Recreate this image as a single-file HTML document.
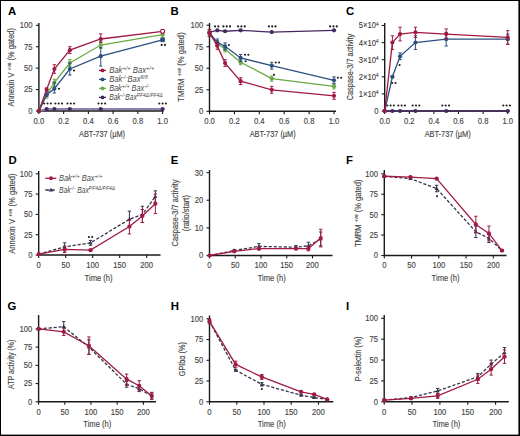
<!DOCTYPE html>
<html><head><meta charset="utf-8"><style>html,body{margin:0;padding:0;background:#fff}svg{display:block}</style></head>
<body><svg width="520" height="436" viewBox="0 0 520 436" font-family="Liberation Sans, sans-serif">
<style>.t{stroke:#4a4a4a;stroke-width:0.15px}</style>
<rect x="0" y="0" width="520" height="436" fill="#fff"/>
<text transform="translate(8,15.4) scale(1.0,1)" font-size="11.4" font-weight="bold" fill="#000">A</text>
<path d="M38.9,23V111H163.6" fill="none" stroke="#1a1a1a" stroke-width="1.4"/>
<path d="M35.9,111.00H38.9" stroke="#1a1a1a" stroke-width="1.1"/>
<text transform="translate(32.60,113.90) scale(0.89,1)" text-anchor="end" font-size="8.6" fill="#444" class="t" >0</text>
<path d="M35.9,89.58H38.9" stroke="#1a1a1a" stroke-width="1.1"/>
<text transform="translate(32.60,92.48) scale(0.89,1)" text-anchor="end" font-size="8.6" fill="#444" class="t" >25</text>
<path d="M35.9,68.15H38.9" stroke="#1a1a1a" stroke-width="1.1"/>
<text transform="translate(32.60,71.05) scale(0.89,1)" text-anchor="end" font-size="8.6" fill="#444" class="t" >50</text>
<path d="M35.9,46.72H38.9" stroke="#1a1a1a" stroke-width="1.1"/>
<text transform="translate(32.60,49.62) scale(0.89,1)" text-anchor="end" font-size="8.6" fill="#444" class="t" >75</text>
<path d="M35.9,25.30H38.9" stroke="#1a1a1a" stroke-width="1.1"/>
<text transform="translate(32.60,28.20) scale(0.89,1)" text-anchor="end" font-size="8.6" fill="#444" class="t" >100</text>
<path d="M38.90,111V114" stroke="#1a1a1a" stroke-width="1.1"/>
<text transform="translate(38.90,123.80) scale(0.89,1)" text-anchor="middle" font-size="8.6" fill="#444" class="t" >0.0</text>
<path d="M63.64,111V114" stroke="#1a1a1a" stroke-width="1.1"/>
<text transform="translate(63.64,123.80) scale(0.89,1)" text-anchor="middle" font-size="8.6" fill="#444" class="t" >0.2</text>
<path d="M88.38,111V114" stroke="#1a1a1a" stroke-width="1.1"/>
<text transform="translate(88.38,123.80) scale(0.89,1)" text-anchor="middle" font-size="8.6" fill="#444" class="t" >0.4</text>
<path d="M113.12,111V114" stroke="#1a1a1a" stroke-width="1.1"/>
<text transform="translate(113.12,123.80) scale(0.89,1)" text-anchor="middle" font-size="8.6" fill="#444" class="t" >0.6</text>
<path d="M137.86,111V114" stroke="#1a1a1a" stroke-width="1.1"/>
<text transform="translate(137.86,123.80) scale(0.89,1)" text-anchor="middle" font-size="8.6" fill="#444" class="t" >0.8</text>
<path d="M162.60,111V114" stroke="#1a1a1a" stroke-width="1.1"/>
<text transform="translate(162.60,123.80) scale(0.89,1)" text-anchor="middle" font-size="8.6" fill="#444" class="t" >1.0</text>
<text x="102.00" y="136.60" textLength="46" lengthAdjust="spacingAndGlyphs" text-anchor="middle" font-size="9.2" fill="#444" class="t" >ABT-737 (µM)</text>
<text transform="translate(14.11,67.30) rotate(-90)" textLength="78.5" lengthAdjust="spacingAndGlyphs" text-anchor="middle" font-size="9.2" fill="#444" class="t">Annexin V <tspan font-size="6" dy="-3.2">+ve</tspan><tspan dy="3.2"> (% gated)</tspan></text>
<path d="M38.90,111.00 L46.63,109.03 L54.36,109.03 L69.83,109.03 L100.75,109.03 L162.60,109.03" fill="none" stroke="#8d7fae" stroke-width="2"/>
<circle cx="38.90" cy="111.00" r="2.1" fill="#45285f"/>
<circle cx="46.63" cy="109.03" r="2.1" fill="#45285f"/>
<circle cx="54.36" cy="109.03" r="2.1" fill="#45285f"/>
<circle cx="69.83" cy="109.03" r="2.1" fill="#45285f"/>
<circle cx="100.75" cy="109.03" r="2.1" fill="#45285f"/>
<circle cx="162.60" cy="109.03" r="2.1" fill="#45285f"/>
<path d="M38.90,111.00 L46.63,94.72 L54.36,82.72 L69.83,63.01 L100.75,45.01 L162.60,34.73" fill="none" stroke="#6aa945" stroke-width="1.3"/>
<path d="M46.63,91.29V98.14M44.93,91.29h3.4M44.93,98.14h3.4" stroke="#6aa945" stroke-width="1"/>
<path d="M54.36,79.29V86.15M52.66,79.29h3.4M52.66,86.15h3.4" stroke="#6aa945" stroke-width="1"/>
<path d="M69.83,59.58V66.44M68.12,59.58h3.4M68.12,66.44h3.4" stroke="#6aa945" stroke-width="1"/>
<path d="M100.75,41.58V48.44M99.05,41.58h3.4M99.05,48.44h3.4" stroke="#6aa945" stroke-width="1"/>
<path d="M162.60,31.30V38.16M160.90,31.30h3.4M160.90,38.16h3.4" stroke="#6aa945" stroke-width="1"/>
<circle cx="38.90" cy="111.00" r="2.1" fill="#6aa945"/>
<circle cx="46.63" cy="94.72" r="2.1" fill="#6aa945"/>
<circle cx="54.36" cy="82.72" r="2.1" fill="#6aa945"/>
<circle cx="69.83" cy="63.01" r="2.1" fill="#6aa945"/>
<circle cx="100.75" cy="45.01" r="2.1" fill="#6aa945"/>
<circle cx="162.60" cy="34.73" r="2.1" fill="#6aa945"/>
<path d="M38.90,111.00 L46.63,94.72 L54.36,88.72 L69.83,69.01 L100.75,56.15 L162.60,39.87" fill="none" stroke="#2c5080" stroke-width="1.3"/>
<path d="M46.63,93.00V96.43M44.93,93.00h3.4M44.93,96.43h3.4" stroke="#2c5080" stroke-width="1"/>
<path d="M54.36,82.72V93.00M52.66,82.72h3.4M52.66,93.00h3.4" stroke="#2c5080" stroke-width="1"/>
<path d="M69.83,63.01V75.01M68.12,63.01h3.4M68.12,75.01h3.4" stroke="#2c5080" stroke-width="1"/>
<path d="M100.75,47.58V66.01M99.05,47.58h3.4M99.05,66.01h3.4" stroke="#2c5080" stroke-width="1"/>
<path d="M162.60,38.16V41.58M160.90,38.16h3.4M160.90,41.58h3.4" stroke="#2c5080" stroke-width="1"/>
<circle cx="38.90" cy="111.00" r="2.1" fill="#2c5080"/>
<circle cx="46.63" cy="94.72" r="2.1" fill="#2c5080"/>
<circle cx="54.36" cy="88.72" r="2.1" fill="#2c5080"/>
<circle cx="69.83" cy="69.01" r="2.1" fill="#2c5080"/>
<circle cx="100.75" cy="56.15" r="2.1" fill="#2c5080"/>
<circle cx="162.60" cy="39.87" r="2.1" fill="#2c5080"/>
<path d="M38.90,111.00 L46.63,89.58 L54.36,69.01 L69.83,50.15 L100.75,39.01 L162.60,31.30" fill="none" stroke="#a01a43" stroke-width="1.3"/>
<path d="M46.63,87.86V91.29M44.93,87.86h3.4M44.93,91.29h3.4" stroke="#a01a43" stroke-width="1"/>
<path d="M54.36,64.72V73.29M52.66,64.72h3.4M52.66,73.29h3.4" stroke="#a01a43" stroke-width="1"/>
<path d="M69.83,46.72V53.58M68.12,46.72h3.4M68.12,53.58h3.4" stroke="#a01a43" stroke-width="1"/>
<path d="M100.75,33.87V42.44M99.05,33.87h3.4M99.05,42.44h3.4" stroke="#a01a43" stroke-width="1"/>
<path d="M162.60,29.58V33.01M160.90,29.58h3.4M160.90,33.01h3.4" stroke="#a01a43" stroke-width="1"/>
<circle cx="38.90" cy="111.00" r="2.1" fill="#a01a43"/>
<circle cx="46.63" cy="89.58" r="2.1" fill="#a01a43"/>
<circle cx="54.36" cy="69.01" r="2.1" fill="#a01a43"/>
<circle cx="69.83" cy="50.15" r="2.1" fill="#a01a43"/>
<circle cx="100.75" cy="39.01" r="2.1" fill="#a01a43"/>
<circle cx="162.60" cy="31.30" r="2.1" fill="#a01a43"/>
<rect x="160.40" y="37.67" width="4.4" height="4.4" fill="#2c5080"/>
<circle cx="162.60" cy="31.30" r="2" fill="#fff" stroke="#a01a43" stroke-width="1.1"/>
<circle cx="44.20" cy="103.50" r="1.05" fill="#1a1a1a"/>
<circle cx="47.50" cy="103.50" r="1.05" fill="#1a1a1a"/>
<circle cx="50.80" cy="103.50" r="1.05" fill="#1a1a1a"/>
<circle cx="55.40" cy="103.50" r="1.05" fill="#1a1a1a"/>
<circle cx="58.70" cy="103.50" r="1.05" fill="#1a1a1a"/>
<circle cx="62.00" cy="103.50" r="1.05" fill="#1a1a1a"/>
<circle cx="67.50" cy="103.50" r="1.05" fill="#1a1a1a"/>
<circle cx="70.80" cy="103.50" r="1.05" fill="#1a1a1a"/>
<circle cx="74.10" cy="103.50" r="1.05" fill="#1a1a1a"/>
<circle cx="98.50" cy="103.50" r="1.05" fill="#1a1a1a"/>
<circle cx="101.80" cy="103.50" r="1.05" fill="#1a1a1a"/>
<circle cx="105.10" cy="103.50" r="1.05" fill="#1a1a1a"/>
<circle cx="159.30" cy="103.50" r="1.05" fill="#1a1a1a"/>
<circle cx="162.60" cy="103.50" r="1.05" fill="#1a1a1a"/>
<circle cx="165.90" cy="103.50" r="1.05" fill="#1a1a1a"/>
<circle cx="161.65" cy="44.90" r="1.05" fill="#1a1a1a"/>
<circle cx="164.95" cy="44.90" r="1.05" fill="#1a1a1a"/>
<circle cx="74.00" cy="70.50" r="1.05" fill="#1a1a1a"/>
<circle cx="59.00" cy="88.80" r="1.05" fill="#1a1a1a"/>
<path d="M99,70.4h7" stroke="#a01a43" stroke-width="1.3"/><circle cx="102.5" cy="70.4" r="1.9" fill="#a01a43"/>
<text x="109.2" y="73.30000000000001" textLength="45" lengthAdjust="spacingAndGlyphs" font-size="8.2" font-style="italic" fill="#4a4a4a">Bak<tspan font-size="6" dy="-3.2">+/+</tspan><tspan dy="3.2"> Bax</tspan><tspan font-size="6" dy="-3.2">+/+</tspan><tspan dy="3.2"></tspan></text>
<path d="M99,79.4h7" stroke="#2c5080" stroke-width="1.3"/><circle cx="102.5" cy="79.4" r="1.9" fill="#2c5080"/>
<text x="109.2" y="82.30000000000001" textLength="38.5" lengthAdjust="spacingAndGlyphs" font-size="8.2" font-style="italic" fill="#4a4a4a">Bak<tspan font-size="6" dy="-3.2">-/-</tspan><tspan dy="3.2">Bax</tspan><tspan font-size="6" dy="-3.2">fl/fl</tspan><tspan dy="3.2"></tspan></text>
<path d="M99,88.4h7" stroke="#6aa945" stroke-width="1.3"/><circle cx="102.5" cy="88.4" r="1.9" fill="#6aa945"/>
<text x="109.2" y="91.30000000000001" textLength="40" lengthAdjust="spacingAndGlyphs" font-size="8.2" font-style="italic" fill="#4a4a4a">Bak<tspan font-size="6" dy="-3.2">+/+</tspan><tspan dy="3.2"> Bax</tspan><tspan font-size="6" dy="-3.2">-/-</tspan><tspan dy="3.2"></tspan></text>
<path d="M99,97.4h7" stroke="#45285f" stroke-width="1.3"/><circle cx="102.5" cy="97.4" r="1.9" fill="#45285f"/>
<text x="109.2" y="100.30000000000001" textLength="53.5" lengthAdjust="spacingAndGlyphs" font-size="8.2" font-style="italic" fill="#4a4a4a">Bak<tspan font-size="6" dy="-3.2">-/-</tspan><tspan dy="3.2">Bax</tspan><tspan font-size="6" dy="-3.2">PF4Δ/PF4Δ</tspan><tspan dy="3.2"></tspan></text>
<text transform="translate(170.6,15.4) scale(1.0,1)" font-size="11.4" font-weight="bold" fill="#000">B</text>
<path d="M209.5,23V111.3H336" fill="none" stroke="#1a1a1a" stroke-width="1.4"/>
<path d="M206.5,111.30H209.5" stroke="#1a1a1a" stroke-width="1.1"/>
<text transform="translate(203.20,114.20) scale(0.89,1)" text-anchor="end" font-size="8.6" fill="#444" class="t" >0</text>
<path d="M206.5,89.78H209.5" stroke="#1a1a1a" stroke-width="1.1"/>
<text transform="translate(203.20,92.68) scale(0.89,1)" text-anchor="end" font-size="8.6" fill="#444" class="t" >25</text>
<path d="M206.5,68.25H209.5" stroke="#1a1a1a" stroke-width="1.1"/>
<text transform="translate(203.20,71.15) scale(0.89,1)" text-anchor="end" font-size="8.6" fill="#444" class="t" >50</text>
<path d="M206.5,46.72H209.5" stroke="#1a1a1a" stroke-width="1.1"/>
<text transform="translate(203.20,49.62) scale(0.89,1)" text-anchor="end" font-size="8.6" fill="#444" class="t" >75</text>
<path d="M206.5,25.20H209.5" stroke="#1a1a1a" stroke-width="1.1"/>
<text transform="translate(203.20,28.10) scale(0.89,1)" text-anchor="end" font-size="8.6" fill="#444" class="t" >100</text>
<path d="M209.50,111.3V114.3" stroke="#1a1a1a" stroke-width="1.1"/>
<text transform="translate(209.50,124.10) scale(0.89,1)" text-anchor="middle" font-size="8.6" fill="#444" class="t" >0.0</text>
<path d="M234.40,111.3V114.3" stroke="#1a1a1a" stroke-width="1.1"/>
<text transform="translate(234.40,124.10) scale(0.89,1)" text-anchor="middle" font-size="8.6" fill="#444" class="t" >0.2</text>
<path d="M259.30,111.3V114.3" stroke="#1a1a1a" stroke-width="1.1"/>
<text transform="translate(259.30,124.10) scale(0.89,1)" text-anchor="middle" font-size="8.6" fill="#444" class="t" >0.4</text>
<path d="M284.20,111.3V114.3" stroke="#1a1a1a" stroke-width="1.1"/>
<text transform="translate(284.20,124.10) scale(0.89,1)" text-anchor="middle" font-size="8.6" fill="#444" class="t" >0.6</text>
<path d="M309.10,111.3V114.3" stroke="#1a1a1a" stroke-width="1.1"/>
<text transform="translate(309.10,124.10) scale(0.89,1)" text-anchor="middle" font-size="8.6" fill="#444" class="t" >0.8</text>
<path d="M334.00,111.3V114.3" stroke="#1a1a1a" stroke-width="1.1"/>
<text transform="translate(334.00,124.10) scale(0.89,1)" text-anchor="middle" font-size="8.6" fill="#444" class="t" >1.0</text>
<text x="272.70" y="137.00" textLength="46" lengthAdjust="spacingAndGlyphs" text-anchor="middle" font-size="9.2" fill="#444" class="t" >ABT-737 (µM)</text>
<text transform="translate(184.01,67.00) rotate(-90)" textLength="69.5" lengthAdjust="spacingAndGlyphs" text-anchor="middle" font-size="9.2" fill="#444" class="t">TMRM <tspan font-size="6" dy="-3.2">+ve</tspan><tspan dy="3.2"> (% gated)</tspan></text>
<path d="M209.50,32.09 L217.28,30.37 L225.06,31.23 L240.62,30.37 L271.75,32.09 L334.00,30.37" fill="none" stroke="#45285f" stroke-width="1.3"/>
<circle cx="209.50" cy="32.09" r="2.1" fill="#45285f"/>
<circle cx="217.28" cy="30.37" r="2.1" fill="#45285f"/>
<circle cx="225.06" cy="31.23" r="2.1" fill="#45285f"/>
<circle cx="240.62" cy="30.37" r="2.1" fill="#45285f"/>
<circle cx="271.75" cy="32.09" r="2.1" fill="#45285f"/>
<circle cx="334.00" cy="30.37" r="2.1" fill="#45285f"/>
<path d="M209.50,32.95 L217.28,43.28 L225.06,49.31 L240.62,62.22 L271.75,78.58 L334.00,86.33" fill="none" stroke="#6aa945" stroke-width="1.3"/>
<path d="M209.50,30.37V35.53M207.80,30.37h3.4M207.80,35.53h3.4" stroke="#6aa945" stroke-width="1"/>
<path d="M217.28,40.70V45.86M215.58,40.70h3.4M215.58,45.86h3.4" stroke="#6aa945" stroke-width="1"/>
<path d="M225.06,46.72V51.89M223.36,46.72h3.4M223.36,51.89h3.4" stroke="#6aa945" stroke-width="1"/>
<path d="M240.62,59.64V64.81M238.93,59.64h3.4M238.93,64.81h3.4" stroke="#6aa945" stroke-width="1"/>
<path d="M271.75,76.00V81.16M270.05,76.00h3.4M270.05,81.16h3.4" stroke="#6aa945" stroke-width="1"/>
<path d="M334.00,83.75V88.91M332.30,83.75h3.4M332.30,88.91h3.4" stroke="#6aa945" stroke-width="1"/>
<circle cx="209.50" cy="32.95" r="2.1" fill="#6aa945"/>
<circle cx="217.28" cy="43.28" r="2.1" fill="#6aa945"/>
<circle cx="225.06" cy="49.31" r="2.1" fill="#6aa945"/>
<circle cx="240.62" cy="62.22" r="2.1" fill="#6aa945"/>
<circle cx="271.75" cy="78.58" r="2.1" fill="#6aa945"/>
<circle cx="334.00" cy="86.33" r="2.1" fill="#6aa945"/>
<path d="M209.50,32.95 L217.28,42.42 L225.06,46.29 L240.62,57.92 L271.75,65.67 L334.00,80.30" fill="none" stroke="#2c5080" stroke-width="1.3"/>
<path d="M209.50,29.51V36.39M207.80,29.51h3.4M207.80,36.39h3.4" stroke="#2c5080" stroke-width="1"/>
<path d="M217.28,38.98V45.86M215.58,38.98h3.4M215.58,45.86h3.4" stroke="#2c5080" stroke-width="1"/>
<path d="M225.06,42.85V49.74M223.36,42.85h3.4M223.36,49.74h3.4" stroke="#2c5080" stroke-width="1"/>
<path d="M240.62,54.47V61.36M238.93,54.47h3.4M238.93,61.36h3.4" stroke="#2c5080" stroke-width="1"/>
<path d="M271.75,62.22V69.11M270.05,62.22h3.4M270.05,69.11h3.4" stroke="#2c5080" stroke-width="1"/>
<path d="M334.00,76.86V83.75M332.30,76.86h3.4M332.30,83.75h3.4" stroke="#2c5080" stroke-width="1"/>
<circle cx="209.50" cy="32.95" r="2.1" fill="#2c5080"/>
<circle cx="217.28" cy="42.42" r="2.1" fill="#2c5080"/>
<circle cx="225.06" cy="46.29" r="2.1" fill="#2c5080"/>
<circle cx="240.62" cy="57.92" r="2.1" fill="#2c5080"/>
<circle cx="271.75" cy="65.67" r="2.1" fill="#2c5080"/>
<circle cx="334.00" cy="80.30" r="2.1" fill="#2c5080"/>
<path d="M209.50,32.95 L217.28,45.86 L225.06,63.08 L240.62,81.16 L271.75,89.78 L334.00,95.80" fill="none" stroke="#a01a43" stroke-width="1.3"/>
<path d="M209.50,29.51V36.39M207.80,29.51h3.4M207.80,36.39h3.4" stroke="#a01a43" stroke-width="1"/>
<path d="M217.28,42.42V49.31M215.58,42.42h3.4M215.58,49.31h3.4" stroke="#a01a43" stroke-width="1"/>
<path d="M225.06,59.64V66.53M223.36,59.64h3.4M223.36,66.53h3.4" stroke="#a01a43" stroke-width="1"/>
<path d="M240.62,77.72V84.61M238.93,77.72h3.4M238.93,84.61h3.4" stroke="#a01a43" stroke-width="1"/>
<path d="M271.75,86.33V93.22M270.05,86.33h3.4M270.05,93.22h3.4" stroke="#a01a43" stroke-width="1"/>
<path d="M334.00,92.36V99.25M332.30,92.36h3.4M332.30,99.25h3.4" stroke="#a01a43" stroke-width="1"/>
<circle cx="209.50" cy="32.95" r="2.1" fill="#a01a43"/>
<circle cx="217.28" cy="45.86" r="2.1" fill="#a01a43"/>
<circle cx="225.06" cy="63.08" r="2.1" fill="#a01a43"/>
<circle cx="240.62" cy="81.16" r="2.1" fill="#a01a43"/>
<circle cx="271.75" cy="89.78" r="2.1" fill="#a01a43"/>
<circle cx="334.00" cy="95.80" r="2.1" fill="#a01a43"/>
<circle cx="215.05" cy="26.40" r="1.05" fill="#1a1a1a"/>
<circle cx="218.35" cy="26.40" r="1.05" fill="#1a1a1a"/>
<circle cx="223.40" cy="26.40" r="1.05" fill="#1a1a1a"/>
<circle cx="226.70" cy="26.40" r="1.05" fill="#1a1a1a"/>
<circle cx="230.00" cy="26.40" r="1.05" fill="#1a1a1a"/>
<circle cx="238.10" cy="26.40" r="1.05" fill="#1a1a1a"/>
<circle cx="241.40" cy="26.40" r="1.05" fill="#1a1a1a"/>
<circle cx="244.70" cy="26.40" r="1.05" fill="#1a1a1a"/>
<circle cx="268.90" cy="26.40" r="1.05" fill="#1a1a1a"/>
<circle cx="272.20" cy="26.40" r="1.05" fill="#1a1a1a"/>
<circle cx="275.50" cy="26.40" r="1.05" fill="#1a1a1a"/>
<circle cx="330.20" cy="26.40" r="1.05" fill="#1a1a1a"/>
<circle cx="333.50" cy="26.40" r="1.05" fill="#1a1a1a"/>
<circle cx="336.80" cy="26.40" r="1.05" fill="#1a1a1a"/>
<circle cx="228.90" cy="45.00" r="1.05" fill="#1a1a1a"/>
<circle cx="245.05" cy="54.70" r="1.05" fill="#1a1a1a"/>
<circle cx="248.35" cy="54.70" r="1.05" fill="#1a1a1a"/>
<circle cx="245.60" cy="61.30" r="1.05" fill="#1a1a1a"/>
<circle cx="275.75" cy="62.50" r="1.05" fill="#1a1a1a"/>
<circle cx="279.05" cy="62.50" r="1.05" fill="#1a1a1a"/>
<circle cx="274.00" cy="74.80" r="1.05" fill="#1a1a1a"/>
<circle cx="337.85" cy="77.70" r="1.05" fill="#1a1a1a"/>
<circle cx="341.15" cy="77.70" r="1.05" fill="#1a1a1a"/>
<text transform="translate(346,15.4) scale(1.0,1)" font-size="11.4" font-weight="bold" fill="#000">C</text>
<path d="M384.7,23V111H509.5" fill="none" stroke="#1a1a1a" stroke-width="1.4"/>
<path d="M381.7,111.00H384.7" stroke="#1a1a1a" stroke-width="1.1"/>
<text transform="translate(378.40,113.90) scale(0.89,1)" text-anchor="end" font-size="8.6" fill="#444" class="t" >0</text>
<path d="M381.7,93.90H384.7" stroke="#1a1a1a" stroke-width="1.1"/>
<text transform="translate(378.40,96.80) scale(0.89,1)" text-anchor="end" font-size="8.6" fill="#444" class="t" >1×10<tspan font-size="5" dy="-2.8">4</tspan></text>
<path d="M381.7,76.80H384.7" stroke="#1a1a1a" stroke-width="1.1"/>
<text transform="translate(378.40,79.70) scale(0.89,1)" text-anchor="end" font-size="8.6" fill="#444" class="t" >2×10<tspan font-size="5" dy="-2.8">4</tspan></text>
<path d="M381.7,59.70H384.7" stroke="#1a1a1a" stroke-width="1.1"/>
<text transform="translate(378.40,62.60) scale(0.89,1)" text-anchor="end" font-size="8.6" fill="#444" class="t" >3×10<tspan font-size="5" dy="-2.8">4</tspan></text>
<path d="M381.7,42.60H384.7" stroke="#1a1a1a" stroke-width="1.1"/>
<text transform="translate(378.40,45.50) scale(0.89,1)" text-anchor="end" font-size="8.6" fill="#444" class="t" >4×10<tspan font-size="5" dy="-2.8">4</tspan></text>
<path d="M381.7,25.50H384.7" stroke="#1a1a1a" stroke-width="1.1"/>
<text transform="translate(378.40,28.40) scale(0.89,1)" text-anchor="end" font-size="8.6" fill="#444" class="t" >5×10<tspan font-size="5" dy="-2.8">4</tspan></text>
<path d="M384.70,111V114" stroke="#1a1a1a" stroke-width="1.1"/>
<text transform="translate(384.70,123.80) scale(0.89,1)" text-anchor="middle" font-size="8.6" fill="#444" class="t" >0.0</text>
<path d="M409.30,111V114" stroke="#1a1a1a" stroke-width="1.1"/>
<text transform="translate(409.30,123.80) scale(0.89,1)" text-anchor="middle" font-size="8.6" fill="#444" class="t" >0.2</text>
<path d="M433.90,111V114" stroke="#1a1a1a" stroke-width="1.1"/>
<text transform="translate(433.90,123.80) scale(0.89,1)" text-anchor="middle" font-size="8.6" fill="#444" class="t" >0.4</text>
<path d="M458.50,111V114" stroke="#1a1a1a" stroke-width="1.1"/>
<text transform="translate(458.50,123.80) scale(0.89,1)" text-anchor="middle" font-size="8.6" fill="#444" class="t" >0.6</text>
<path d="M483.10,111V114" stroke="#1a1a1a" stroke-width="1.1"/>
<text transform="translate(483.10,123.80) scale(0.89,1)" text-anchor="middle" font-size="8.6" fill="#444" class="t" >0.8</text>
<path d="M507.70,111V114" stroke="#1a1a1a" stroke-width="1.1"/>
<text transform="translate(507.70,123.80) scale(0.89,1)" text-anchor="middle" font-size="8.6" fill="#444" class="t" >1.0</text>
<text x="447.70" y="137.40" textLength="46" lengthAdjust="spacingAndGlyphs" text-anchor="middle" font-size="9.2" fill="#444" class="t" >ABT-737 (µM)</text>
<text transform="translate(352.61,67.10) rotate(-90)" textLength="66.5" lengthAdjust="spacingAndGlyphs" text-anchor="middle" font-size="9.2" fill="#444" class="t">Caspase-3/7 activity</text>
<path d="M384.70,111.00 L392.39,111.00 L400.07,111.00 L415.45,111.00 L446.20,111.00 L507.70,111.00" fill="none" stroke="#45285f" stroke-width="1.3"/>
<circle cx="384.70" cy="111.00" r="2.1" fill="#45285f"/>
<circle cx="392.39" cy="111.00" r="2.1" fill="#45285f"/>
<circle cx="400.07" cy="111.00" r="2.1" fill="#45285f"/>
<circle cx="415.45" cy="111.00" r="2.1" fill="#45285f"/>
<circle cx="446.20" cy="111.00" r="2.1" fill="#45285f"/>
<circle cx="507.70" cy="111.00" r="2.1" fill="#45285f"/>
<path d="M384.70,111.00 L392.39,76.80 L400.07,56.28 L415.45,42.60 L446.20,39.18 L507.70,39.18" fill="none" stroke="#2c5080" stroke-width="1.3"/>
<path d="M392.39,75.95V77.66M390.69,75.95h3.4M390.69,77.66h3.4" stroke="#2c5080" stroke-width="1"/>
<path d="M400.07,52.86V59.70M398.38,52.86h3.4M398.38,59.70h3.4" stroke="#2c5080" stroke-width="1"/>
<path d="M415.45,35.76V49.44M413.75,35.76h3.4M413.75,49.44h3.4" stroke="#2c5080" stroke-width="1"/>
<path d="M446.20,32.34V46.02M444.50,32.34h3.4M444.50,46.02h3.4" stroke="#2c5080" stroke-width="1"/>
<path d="M507.70,34.05V44.31M506.00,34.05h3.4M506.00,44.31h3.4" stroke="#2c5080" stroke-width="1"/>
<circle cx="384.70" cy="111.00" r="2.1" fill="#2c5080"/>
<circle cx="392.39" cy="76.80" r="2.1" fill="#2c5080"/>
<circle cx="400.07" cy="56.28" r="2.1" fill="#2c5080"/>
<circle cx="415.45" cy="42.60" r="2.1" fill="#2c5080"/>
<circle cx="446.20" cy="39.18" r="2.1" fill="#2c5080"/>
<circle cx="507.70" cy="39.18" r="2.1" fill="#2c5080"/>
<path d="M384.70,111.00 L392.39,42.60 L400.07,34.05 L415.45,32.34 L446.20,34.05 L507.70,37.47" fill="none" stroke="#a01a43" stroke-width="1.3"/>
<path d="M392.39,35.76V49.44M390.69,35.76h3.4M390.69,49.44h3.4" stroke="#a01a43" stroke-width="1"/>
<path d="M400.07,27.21V40.89M398.38,27.21h3.4M398.38,40.89h3.4" stroke="#a01a43" stroke-width="1"/>
<path d="M415.45,27.21V37.47M413.75,27.21h3.4M413.75,37.47h3.4" stroke="#a01a43" stroke-width="1"/>
<path d="M446.20,28.92V39.18M444.50,28.92h3.4M444.50,39.18h3.4" stroke="#a01a43" stroke-width="1"/>
<path d="M507.70,30.63V44.31M506.00,30.63h3.4M506.00,44.31h3.4" stroke="#a01a43" stroke-width="1"/>
<circle cx="384.70" cy="111.00" r="2.1" fill="#a01a43"/>
<circle cx="392.39" cy="42.60" r="2.1" fill="#a01a43"/>
<circle cx="400.07" cy="34.05" r="2.1" fill="#a01a43"/>
<circle cx="415.45" cy="32.34" r="2.1" fill="#a01a43"/>
<circle cx="446.20" cy="34.05" r="2.1" fill="#a01a43"/>
<circle cx="507.70" cy="37.47" r="2.1" fill="#a01a43"/>
<circle cx="387.30" cy="105.50" r="1.05" fill="#1a1a1a"/>
<circle cx="390.60" cy="105.50" r="1.05" fill="#1a1a1a"/>
<circle cx="393.90" cy="105.50" r="1.05" fill="#1a1a1a"/>
<circle cx="398.30" cy="105.50" r="1.05" fill="#1a1a1a"/>
<circle cx="401.60" cy="105.50" r="1.05" fill="#1a1a1a"/>
<circle cx="404.90" cy="105.50" r="1.05" fill="#1a1a1a"/>
<circle cx="412.70" cy="105.50" r="1.05" fill="#1a1a1a"/>
<circle cx="416.00" cy="105.50" r="1.05" fill="#1a1a1a"/>
<circle cx="419.30" cy="105.50" r="1.05" fill="#1a1a1a"/>
<circle cx="442.40" cy="105.50" r="1.05" fill="#1a1a1a"/>
<circle cx="445.70" cy="105.50" r="1.05" fill="#1a1a1a"/>
<circle cx="449.00" cy="105.50" r="1.05" fill="#1a1a1a"/>
<circle cx="503.30" cy="105.50" r="1.05" fill="#1a1a1a"/>
<circle cx="506.60" cy="105.50" r="1.05" fill="#1a1a1a"/>
<circle cx="509.90" cy="105.50" r="1.05" fill="#1a1a1a"/>
<circle cx="392.15" cy="83.00" r="1.05" fill="#1a1a1a"/>
<circle cx="395.45" cy="83.00" r="1.05" fill="#1a1a1a"/>
<circle cx="399.60" cy="65.00" r="1.05" fill="#1a1a1a"/>
<text transform="translate(8.5,164.4) scale(1.0,1)" font-size="11.4" font-weight="bold" fill="#000">D</text>
<path d="M38.7,171V255H160.5" fill="none" stroke="#1a1a1a" stroke-width="1.4"/>
<path d="M35.7,255.00H38.7" stroke="#1a1a1a" stroke-width="1.1"/>
<text transform="translate(32.40,257.90) scale(0.89,1)" text-anchor="end" font-size="8.6" fill="#444" class="t" >0</text>
<path d="M35.7,234.70H38.7" stroke="#1a1a1a" stroke-width="1.1"/>
<text transform="translate(32.40,237.60) scale(0.89,1)" text-anchor="end" font-size="8.6" fill="#444" class="t" >25</text>
<path d="M35.7,214.40H38.7" stroke="#1a1a1a" stroke-width="1.1"/>
<text transform="translate(32.40,217.30) scale(0.89,1)" text-anchor="end" font-size="8.6" fill="#444" class="t" >50</text>
<path d="M35.7,194.10H38.7" stroke="#1a1a1a" stroke-width="1.1"/>
<text transform="translate(32.40,197.00) scale(0.89,1)" text-anchor="end" font-size="8.6" fill="#444" class="t" >75</text>
<path d="M35.7,173.80H38.7" stroke="#1a1a1a" stroke-width="1.1"/>
<text transform="translate(32.40,176.70) scale(0.89,1)" text-anchor="end" font-size="8.6" fill="#444" class="t" >100</text>
<path d="M38.70,255V258" stroke="#1a1a1a" stroke-width="1.1"/>
<text transform="translate(38.70,267.80) scale(0.89,1)" text-anchor="middle" font-size="8.6" fill="#444" class="t" >0</text>
<path d="M65.70,255V258" stroke="#1a1a1a" stroke-width="1.1"/>
<text transform="translate(65.70,267.80) scale(0.89,1)" text-anchor="middle" font-size="8.6" fill="#444" class="t" >50</text>
<path d="M92.70,255V258" stroke="#1a1a1a" stroke-width="1.1"/>
<text transform="translate(92.70,267.80) scale(0.89,1)" text-anchor="middle" font-size="8.6" fill="#444" class="t" >100</text>
<path d="M119.70,255V258" stroke="#1a1a1a" stroke-width="1.1"/>
<text transform="translate(119.70,267.80) scale(0.89,1)" text-anchor="middle" font-size="8.6" fill="#444" class="t" >150</text>
<path d="M146.70,255V258" stroke="#1a1a1a" stroke-width="1.1"/>
<text transform="translate(146.70,267.80) scale(0.89,1)" text-anchor="middle" font-size="8.6" fill="#444" class="t" >200</text>
<text x="98.60" y="280.50" textLength="28" lengthAdjust="spacingAndGlyphs" text-anchor="middle" font-size="9.2" fill="#444" class="t" >Time (h)</text>
<path d="M38.70,254.19 L64.62,246.88 L90.54,242.82 L129.42,219.27 L142.38,214.40 L155.34,196.54" fill="none" stroke="#33344f" stroke-width="1.3" stroke-dasharray="3.2,1.8"/>
<path d="M38.70,254.19V254.19M37.00,254.19h3.4M37.00,254.19h3.4" stroke="#33344f" stroke-width="1"/>
<path d="M64.62,242.82V250.94M62.92,242.82h3.4M62.92,250.94h3.4" stroke="#33344f" stroke-width="1"/>
<path d="M90.54,240.38V245.26M88.84,240.38h3.4M88.84,245.26h3.4" stroke="#33344f" stroke-width="1"/>
<path d="M129.42,211.15V227.39M127.72,211.15h3.4M127.72,227.39h3.4" stroke="#33344f" stroke-width="1"/>
<path d="M142.38,206.28V222.52M140.68,206.28h3.4M140.68,222.52h3.4" stroke="#33344f" stroke-width="1"/>
<path d="M155.34,190.85V202.22M153.64,190.85h3.4M153.64,202.22h3.4" stroke="#33344f" stroke-width="1"/>
<path d="M38.70,251.99L40.70,255.59L36.70,255.59Z" fill="#33344f"/>
<path d="M64.62,244.68L66.62,248.28L62.62,248.28Z" fill="#33344f"/>
<path d="M90.54,240.62L92.54,244.22L88.54,244.22Z" fill="#33344f"/>
<path d="M129.42,217.07L131.42,220.67L127.42,220.67Z" fill="#33344f"/>
<path d="M142.38,212.20L144.38,215.80L140.38,215.80Z" fill="#33344f"/>
<path d="M155.34,194.34L157.34,197.94L153.34,197.94Z" fill="#33344f"/>
<path d="M38.70,254.19 L64.62,249.32 L90.54,250.13 L129.42,226.58 L142.38,216.02 L155.34,203.84" fill="none" stroke="#a01a43" stroke-width="1.3"/>
<path d="M38.70,254.19V254.19M37.00,254.19h3.4M37.00,254.19h3.4" stroke="#a01a43" stroke-width="1"/>
<path d="M64.62,246.07V252.56M62.92,246.07h3.4M62.92,252.56h3.4" stroke="#a01a43" stroke-width="1"/>
<path d="M90.54,249.32V250.94M88.84,249.32h3.4M88.84,250.94h3.4" stroke="#a01a43" stroke-width="1"/>
<path d="M129.42,219.27V233.89M127.72,219.27h3.4M127.72,233.89h3.4" stroke="#a01a43" stroke-width="1"/>
<path d="M142.38,209.53V222.52M140.68,209.53h3.4M140.68,222.52h3.4" stroke="#a01a43" stroke-width="1"/>
<path d="M155.34,194.10V213.59M153.64,194.10h3.4M153.64,213.59h3.4" stroke="#a01a43" stroke-width="1"/>
<circle cx="38.70" cy="254.19" r="2.1" fill="#a01a43"/>
<circle cx="64.62" cy="249.32" r="2.1" fill="#a01a43"/>
<circle cx="90.54" cy="250.13" r="2.1" fill="#a01a43"/>
<circle cx="129.42" cy="226.58" r="2.1" fill="#a01a43"/>
<circle cx="142.38" cy="216.02" r="2.1" fill="#a01a43"/>
<circle cx="155.34" cy="203.84" r="2.1" fill="#a01a43"/>
<text transform="translate(14.71,213.60) rotate(-90)" textLength="80.3" lengthAdjust="spacingAndGlyphs" text-anchor="middle" font-size="9.2" fill="#444" class="t">Annexin V <tspan font-size="6" dy="-3.2">+ve</tspan><tspan dy="3.2"> (% gated)</tspan></text>
<circle cx="88.89" cy="237.00" r="1.05" fill="#1a1a1a"/>
<circle cx="92.19" cy="237.00" r="1.05" fill="#1a1a1a"/>
<path d="M45.3,178.3h11" stroke="#a01a43" stroke-width="1.3"/><circle cx="51" cy="178.3" r="2" fill="#a01a43"/>
<path d="M45.3,190h11" stroke="#33344f" stroke-width="1.3" stroke-dasharray="4,1.5"/><path d="M51,187.8L53.3,191.5L48.7,191.5Z" fill="#45285f"/>
<text x="59" y="181" textLength="43.5" lengthAdjust="spacingAndGlyphs" font-size="8.2" font-style="italic" fill="#4a4a4a">Bak<tspan font-size="6" dy="-3.2">+/+</tspan><tspan dy="3.2"> Bax</tspan><tspan font-size="6" dy="-3.2">+/+</tspan><tspan dy="3.2"></tspan></text>
<text x="59" y="193.4" textLength="56" lengthAdjust="spacingAndGlyphs" font-size="8.2" font-style="italic" fill="#4a4a4a">Bak<tspan font-size="6" dy="-3.2">-/-</tspan><tspan dy="3.2"> Bax</tspan><tspan font-size="6" dy="-3.2">PF4Δ/PF4Δ</tspan><tspan dy="3.2"></tspan></text>
<text transform="translate(170.8,164.4) scale(1.0,1)" font-size="11.4" font-weight="bold" fill="#000">E</text>
<path d="M209.5,170V255.5H332.5" fill="none" stroke="#1a1a1a" stroke-width="1.4"/>
<path d="M206.5,255.50H209.5" stroke="#1a1a1a" stroke-width="1.1"/>
<text transform="translate(203.20,258.40) scale(0.89,1)" text-anchor="end" font-size="8.6" fill="#444" class="t" >0</text>
<path d="M206.5,227.87H209.5" stroke="#1a1a1a" stroke-width="1.1"/>
<text transform="translate(203.20,230.77) scale(0.89,1)" text-anchor="end" font-size="8.6" fill="#444" class="t" >10</text>
<path d="M206.5,200.23H209.5" stroke="#1a1a1a" stroke-width="1.1"/>
<text transform="translate(203.20,203.13) scale(0.89,1)" text-anchor="end" font-size="8.6" fill="#444" class="t" >20</text>
<path d="M206.5,172.60H209.5" stroke="#1a1a1a" stroke-width="1.1"/>
<text transform="translate(203.20,175.50) scale(0.89,1)" text-anchor="end" font-size="8.6" fill="#444" class="t" >30</text>
<path d="M209.50,255.5V258.5" stroke="#1a1a1a" stroke-width="1.1"/>
<text transform="translate(209.50,268.30) scale(0.89,1)" text-anchor="middle" font-size="8.6" fill="#444" class="t" >0</text>
<path d="M235.25,255.5V258.5" stroke="#1a1a1a" stroke-width="1.1"/>
<text transform="translate(235.25,268.30) scale(0.89,1)" text-anchor="middle" font-size="8.6" fill="#444" class="t" >50</text>
<path d="M261.00,255.5V258.5" stroke="#1a1a1a" stroke-width="1.1"/>
<text transform="translate(261.00,268.30) scale(0.89,1)" text-anchor="middle" font-size="8.6" fill="#444" class="t" >100</text>
<path d="M286.75,255.5V258.5" stroke="#1a1a1a" stroke-width="1.1"/>
<text transform="translate(286.75,268.30) scale(0.89,1)" text-anchor="middle" font-size="8.6" fill="#444" class="t" >150</text>
<path d="M312.50,255.5V258.5" stroke="#1a1a1a" stroke-width="1.1"/>
<text transform="translate(312.50,268.30) scale(0.89,1)" text-anchor="middle" font-size="8.6" fill="#444" class="t" >200</text>
<text x="271.70" y="281.00" textLength="28" lengthAdjust="spacingAndGlyphs" text-anchor="middle" font-size="9.2" fill="#444" class="t" >Time (h)</text>
<path d="M209.50,255.50 L234.22,250.53 L258.94,246.38 L296.02,247.21 L308.38,245.83 L320.74,238.92" fill="none" stroke="#33344f" stroke-width="1.3" stroke-dasharray="3.2,1.8"/>
<path d="M209.50,255.50V255.50M207.80,255.50h3.4M207.80,255.50h3.4" stroke="#33344f" stroke-width="1"/>
<path d="M234.22,249.70V251.35M232.52,249.70h3.4M232.52,251.35h3.4" stroke="#33344f" stroke-width="1"/>
<path d="M258.94,243.62V249.14M257.24,243.62h3.4M257.24,249.14h3.4" stroke="#33344f" stroke-width="1"/>
<path d="M296.02,245.55V248.87M294.32,245.55h3.4M294.32,248.87h3.4" stroke="#33344f" stroke-width="1"/>
<path d="M308.38,242.24V249.42M306.68,242.24h3.4M306.68,249.42h3.4" stroke="#33344f" stroke-width="1"/>
<path d="M320.74,232.01V245.83M319.04,232.01h3.4M319.04,245.83h3.4" stroke="#33344f" stroke-width="1"/>
<path d="M209.50,253.30L211.50,256.90L207.50,256.90Z" fill="#33344f"/>
<path d="M234.22,248.33L236.22,251.93L232.22,251.93Z" fill="#33344f"/>
<path d="M258.94,244.18L260.94,247.78L256.94,247.78Z" fill="#33344f"/>
<path d="M296.02,245.01L298.02,248.61L294.02,248.61Z" fill="#33344f"/>
<path d="M308.38,243.63L310.38,247.23L306.38,247.23Z" fill="#33344f"/>
<path d="M320.74,236.72L322.74,240.32L318.74,240.32Z" fill="#33344f"/>
<path d="M209.50,255.50 L234.22,251.35 L258.94,248.59 L296.02,248.59 L308.38,248.59 L320.74,238.09" fill="none" stroke="#a01a43" stroke-width="1.3"/>
<path d="M209.50,255.50V255.50M207.80,255.50h3.4M207.80,255.50h3.4" stroke="#a01a43" stroke-width="1"/>
<path d="M234.22,250.53V252.18M232.52,250.53h3.4M232.52,252.18h3.4" stroke="#a01a43" stroke-width="1"/>
<path d="M258.94,247.21V249.97M257.24,247.21h3.4M257.24,249.97h3.4" stroke="#a01a43" stroke-width="1"/>
<path d="M296.02,247.49V249.70M294.32,247.49h3.4M294.32,249.70h3.4" stroke="#a01a43" stroke-width="1"/>
<path d="M308.38,246.38V250.80M306.68,246.38h3.4M306.68,250.80h3.4" stroke="#a01a43" stroke-width="1"/>
<path d="M320.74,229.25V246.93M319.04,229.25h3.4M319.04,246.93h3.4" stroke="#a01a43" stroke-width="1"/>
<circle cx="209.50" cy="255.50" r="2.1" fill="#a01a43"/>
<circle cx="234.22" cy="251.35" r="2.1" fill="#a01a43"/>
<circle cx="258.94" cy="248.59" r="2.1" fill="#a01a43"/>
<circle cx="296.02" cy="248.59" r="2.1" fill="#a01a43"/>
<circle cx="308.38" cy="248.59" r="2.1" fill="#a01a43"/>
<circle cx="320.74" cy="238.09" r="2.1" fill="#a01a43"/>
<text transform="translate(178.21,213.00) rotate(-90)" textLength="66.8" lengthAdjust="spacingAndGlyphs" text-anchor="middle" font-size="9.2" fill="#444" class="t">Caspase-3/7 activity</text>
<text transform="translate(189.01,213.20) rotate(-90)" textLength="36.3" lengthAdjust="spacingAndGlyphs" text-anchor="middle" font-size="9.2" fill="#444" class="t">(ratio/start)</text>
<text transform="translate(346,164.4) scale(1.0,1)" font-size="11.4" font-weight="bold" fill="#000">F</text>
<path d="M384.3,170V255.5H506.5" fill="none" stroke="#1a1a1a" stroke-width="1.4"/>
<path d="M381.3,255.50H384.3" stroke="#1a1a1a" stroke-width="1.1"/>
<text transform="translate(378.00,258.40) scale(0.89,1)" text-anchor="end" font-size="8.6" fill="#444" class="t" >0</text>
<path d="M381.3,235.07H384.3" stroke="#1a1a1a" stroke-width="1.1"/>
<text transform="translate(378.00,237.97) scale(0.89,1)" text-anchor="end" font-size="8.6" fill="#444" class="t" >25</text>
<path d="M381.3,214.65H384.3" stroke="#1a1a1a" stroke-width="1.1"/>
<text transform="translate(378.00,217.55) scale(0.89,1)" text-anchor="end" font-size="8.6" fill="#444" class="t" >50</text>
<path d="M381.3,194.23H384.3" stroke="#1a1a1a" stroke-width="1.1"/>
<text transform="translate(378.00,197.13) scale(0.89,1)" text-anchor="end" font-size="8.6" fill="#444" class="t" >75</text>
<path d="M381.3,173.80H384.3" stroke="#1a1a1a" stroke-width="1.1"/>
<text transform="translate(378.00,176.70) scale(0.89,1)" text-anchor="end" font-size="8.6" fill="#444" class="t" >100</text>
<path d="M384.30,255.5V258.5" stroke="#1a1a1a" stroke-width="1.1"/>
<text transform="translate(384.30,268.30) scale(0.89,1)" text-anchor="middle" font-size="8.6" fill="#444" class="t" >0</text>
<path d="M411.55,255.5V258.5" stroke="#1a1a1a" stroke-width="1.1"/>
<text transform="translate(411.55,268.30) scale(0.89,1)" text-anchor="middle" font-size="8.6" fill="#444" class="t" >50</text>
<path d="M438.80,255.5V258.5" stroke="#1a1a1a" stroke-width="1.1"/>
<text transform="translate(438.80,268.30) scale(0.89,1)" text-anchor="middle" font-size="8.6" fill="#444" class="t" >100</text>
<path d="M466.05,255.5V258.5" stroke="#1a1a1a" stroke-width="1.1"/>
<text transform="translate(466.05,268.30) scale(0.89,1)" text-anchor="middle" font-size="8.6" fill="#444" class="t" >150</text>
<path d="M493.30,255.5V258.5" stroke="#1a1a1a" stroke-width="1.1"/>
<text transform="translate(493.30,268.30) scale(0.89,1)" text-anchor="middle" font-size="8.6" fill="#444" class="t" >200</text>
<text x="445.60" y="281.00" textLength="28" lengthAdjust="spacingAndGlyphs" text-anchor="middle" font-size="9.2" fill="#444" class="t" >Time (h)</text>
<path d="M384.30,176.25 L410.46,178.70 L436.62,188.51 L475.86,231.81 L488.94,238.34 L502.02,250.60" fill="none" stroke="#33344f" stroke-width="1.3" stroke-dasharray="3.2,1.8"/>
<path d="M384.30,175.43V177.07M382.60,175.43h3.4M382.60,177.07h3.4" stroke="#33344f" stroke-width="1"/>
<path d="M410.46,177.88V179.52M408.76,177.88h3.4M408.76,179.52h3.4" stroke="#33344f" stroke-width="1"/>
<path d="M436.62,185.24V191.77M434.92,185.24h3.4M434.92,191.77h3.4" stroke="#33344f" stroke-width="1"/>
<path d="M475.86,226.09V237.53M474.16,226.09h3.4M474.16,237.53h3.4" stroke="#33344f" stroke-width="1"/>
<path d="M488.94,234.26V242.43M487.24,234.26h3.4M487.24,242.43h3.4" stroke="#33344f" stroke-width="1"/>
<path d="M502.02,249.78V251.41M500.32,249.78h3.4M500.32,251.41h3.4" stroke="#33344f" stroke-width="1"/>
<path d="M384.30,174.05L386.30,177.65L382.30,177.65Z" fill="#33344f"/>
<path d="M410.46,176.50L412.46,180.10L408.46,180.10Z" fill="#33344f"/>
<path d="M436.62,186.31L438.62,189.91L434.62,189.91Z" fill="#33344f"/>
<path d="M475.86,229.61L477.86,233.21L473.86,233.21Z" fill="#33344f"/>
<path d="M488.94,236.14L490.94,239.74L486.94,239.74Z" fill="#33344f"/>
<path d="M502.02,248.40L504.02,252.00L500.02,252.00Z" fill="#33344f"/>
<path d="M384.30,176.25 L410.46,177.07 L436.62,178.70 L475.86,224.45 L488.94,233.44 L502.02,250.60" fill="none" stroke="#a01a43" stroke-width="1.3"/>
<path d="M384.30,175.43V177.07M382.60,175.43h3.4M382.60,177.07h3.4" stroke="#a01a43" stroke-width="1"/>
<path d="M410.46,176.25V177.88M408.76,176.25h3.4M408.76,177.88h3.4" stroke="#a01a43" stroke-width="1"/>
<path d="M436.62,177.88V179.52M434.92,177.88h3.4M434.92,179.52h3.4" stroke="#a01a43" stroke-width="1"/>
<path d="M475.86,216.28V232.62M474.16,216.28h3.4M474.16,232.62h3.4" stroke="#a01a43" stroke-width="1"/>
<path d="M488.94,226.09V240.79M487.24,226.09h3.4M487.24,240.79h3.4" stroke="#a01a43" stroke-width="1"/>
<path d="M502.02,249.78V251.41M500.32,249.78h3.4M500.32,251.41h3.4" stroke="#a01a43" stroke-width="1"/>
<circle cx="384.30" cy="176.25" r="2.1" fill="#a01a43"/>
<circle cx="410.46" cy="177.07" r="2.1" fill="#a01a43"/>
<circle cx="436.62" cy="178.70" r="2.1" fill="#a01a43"/>
<circle cx="475.86" cy="224.45" r="2.1" fill="#a01a43"/>
<circle cx="488.94" cy="233.44" r="2.1" fill="#a01a43"/>
<circle cx="502.02" cy="250.60" r="2.1" fill="#a01a43"/>
<text transform="translate(360.71,213.30) rotate(-90)" textLength="67.5" lengthAdjust="spacingAndGlyphs" text-anchor="middle" font-size="9.2" fill="#444" class="t">TMRM <tspan font-size="6" dy="-3.2">+ve</tspan><tspan dy="3.2"> (% gated)</tspan></text>
<circle cx="437.00" cy="196.30" r="1.05" fill="#1a1a1a"/>
<text transform="translate(7.5,309.6) scale(1.0,1)" font-size="11.4" font-weight="bold" fill="#000">G</text>
<path d="M38.6,315V401.8H156" fill="none" stroke="#1a1a1a" stroke-width="1.4"/>
<path d="M35.6,401.80H38.6" stroke="#1a1a1a" stroke-width="1.1"/>
<text transform="translate(32.30,404.70) scale(0.89,1)" text-anchor="end" font-size="8.6" fill="#444" class="t" >0</text>
<path d="M35.6,383.57H38.6" stroke="#1a1a1a" stroke-width="1.1"/>
<text transform="translate(32.30,386.47) scale(0.89,1)" text-anchor="end" font-size="8.6" fill="#444" class="t" >25</text>
<path d="M35.6,365.35H38.6" stroke="#1a1a1a" stroke-width="1.1"/>
<text transform="translate(32.30,368.25) scale(0.89,1)" text-anchor="end" font-size="8.6" fill="#444" class="t" >50</text>
<path d="M35.6,347.12H38.6" stroke="#1a1a1a" stroke-width="1.1"/>
<text transform="translate(32.30,350.02) scale(0.89,1)" text-anchor="end" font-size="8.6" fill="#444" class="t" >75</text>
<path d="M35.6,328.90H38.6" stroke="#1a1a1a" stroke-width="1.1"/>
<text transform="translate(32.30,331.80) scale(0.89,1)" text-anchor="end" font-size="8.6" fill="#444" class="t" >100</text>
<path d="M38.60,401.8V404.8" stroke="#1a1a1a" stroke-width="1.1"/>
<text transform="translate(38.60,414.60) scale(0.89,1)" text-anchor="middle" font-size="8.6" fill="#444" class="t" >0</text>
<path d="M64.80,401.8V404.8" stroke="#1a1a1a" stroke-width="1.1"/>
<text transform="translate(64.80,414.60) scale(0.89,1)" text-anchor="middle" font-size="8.6" fill="#444" class="t" >50</text>
<path d="M91.00,401.8V404.8" stroke="#1a1a1a" stroke-width="1.1"/>
<text transform="translate(91.00,414.60) scale(0.89,1)" text-anchor="middle" font-size="8.6" fill="#444" class="t" >100</text>
<path d="M117.20,401.8V404.8" stroke="#1a1a1a" stroke-width="1.1"/>
<text transform="translate(117.20,414.60) scale(0.89,1)" text-anchor="middle" font-size="8.6" fill="#444" class="t" >150</text>
<path d="M143.40,401.8V404.8" stroke="#1a1a1a" stroke-width="1.1"/>
<text transform="translate(143.40,414.60) scale(0.89,1)" text-anchor="middle" font-size="8.6" fill="#444" class="t" >200</text>
<text x="97.30" y="427.30" textLength="28" lengthAdjust="spacingAndGlyphs" text-anchor="middle" font-size="9.2" fill="#444" class="t" >Time (h)</text>
<path d="M38.60,328.90 L63.75,326.71 L88.90,347.12 L126.63,384.30 L139.21,388.68 L151.78,395.97" fill="none" stroke="#33344f" stroke-width="1.3" stroke-dasharray="3.2,1.8"/>
<path d="M38.60,328.17V329.63M36.90,328.17h3.4M36.90,329.63h3.4" stroke="#33344f" stroke-width="1"/>
<path d="M63.75,321.61V331.82M62.05,321.61h3.4M62.05,331.82h3.4" stroke="#33344f" stroke-width="1"/>
<path d="M88.90,339.83V354.41M87.20,339.83h3.4M87.20,354.41h3.4" stroke="#33344f" stroke-width="1"/>
<path d="M126.63,381.39V387.22M124.93,381.39h3.4M124.93,387.22h3.4" stroke="#33344f" stroke-width="1"/>
<path d="M139.21,385.76V391.59M137.51,385.76h3.4M137.51,391.59h3.4" stroke="#33344f" stroke-width="1"/>
<path d="M151.78,393.05V398.88M150.08,393.05h3.4M150.08,398.88h3.4" stroke="#33344f" stroke-width="1"/>
<path d="M38.60,326.70L40.60,330.30L36.60,330.30Z" fill="#33344f"/>
<path d="M63.75,324.51L65.75,328.11L61.75,328.11Z" fill="#33344f"/>
<path d="M88.90,344.93L90.90,348.52L86.90,348.52Z" fill="#33344f"/>
<path d="M126.63,382.10L128.63,385.70L124.63,385.70Z" fill="#33344f"/>
<path d="M139.21,386.48L141.21,390.08L137.21,390.08Z" fill="#33344f"/>
<path d="M151.78,393.77L153.78,397.37L149.78,397.37Z" fill="#33344f"/>
<path d="M38.60,328.90 L63.75,331.82 L88.90,345.67 L126.63,379.20 L139.21,385.76 L151.78,395.97" fill="none" stroke="#a01a43" stroke-width="1.3"/>
<path d="M38.60,328.17V329.63M36.90,328.17h3.4M36.90,329.63h3.4" stroke="#a01a43" stroke-width="1"/>
<path d="M63.75,328.17V335.46M62.05,328.17h3.4M62.05,335.46h3.4" stroke="#a01a43" stroke-width="1"/>
<path d="M88.90,336.92V354.41M87.20,336.92h3.4M87.20,354.41h3.4" stroke="#a01a43" stroke-width="1"/>
<path d="M126.63,374.10V384.30M124.93,374.10h3.4M124.93,384.30h3.4" stroke="#a01a43" stroke-width="1"/>
<path d="M139.21,380.66V390.87M137.51,380.66h3.4M137.51,390.87h3.4" stroke="#a01a43" stroke-width="1"/>
<path d="M151.78,392.32V399.61M150.08,392.32h3.4M150.08,399.61h3.4" stroke="#a01a43" stroke-width="1"/>
<circle cx="38.60" cy="328.90" r="2.1" fill="#a01a43"/>
<circle cx="63.75" cy="331.82" r="2.1" fill="#a01a43"/>
<circle cx="88.90" cy="345.67" r="2.1" fill="#a01a43"/>
<circle cx="126.63" cy="379.20" r="2.1" fill="#a01a43"/>
<circle cx="139.21" cy="385.76" r="2.1" fill="#a01a43"/>
<circle cx="151.78" cy="395.97" r="2.1" fill="#a01a43"/>
<text transform="translate(14.01,364.30) rotate(-90)" textLength="49.5" lengthAdjust="spacingAndGlyphs" text-anchor="middle" font-size="9.2" fill="#444" class="t">ATP activity (%)</text>
<text transform="translate(170.8,309.6) scale(1.0,1)" font-size="11.4" font-weight="bold" fill="#000">H</text>
<path d="M209.5,315.6V401.8H333.3" fill="none" stroke="#1a1a1a" stroke-width="1.4"/>
<path d="M206.5,401.80H209.5" stroke="#1a1a1a" stroke-width="1.1"/>
<text transform="translate(203.20,404.70) scale(0.89,1)" text-anchor="end" font-size="8.6" fill="#444" class="t" >0</text>
<path d="M206.5,381.05H209.5" stroke="#1a1a1a" stroke-width="1.1"/>
<text transform="translate(203.20,383.95) scale(0.89,1)" text-anchor="end" font-size="8.6" fill="#444" class="t" >25</text>
<path d="M206.5,360.30H209.5" stroke="#1a1a1a" stroke-width="1.1"/>
<text transform="translate(203.20,363.20) scale(0.89,1)" text-anchor="end" font-size="8.6" fill="#444" class="t" >50</text>
<path d="M206.5,339.55H209.5" stroke="#1a1a1a" stroke-width="1.1"/>
<text transform="translate(203.20,342.45) scale(0.89,1)" text-anchor="end" font-size="8.6" fill="#444" class="t" >75</text>
<path d="M206.5,318.80H209.5" stroke="#1a1a1a" stroke-width="1.1"/>
<text transform="translate(203.20,321.70) scale(0.89,1)" text-anchor="end" font-size="8.6" fill="#444" class="t" >100</text>
<path d="M209.50,401.8V404.8" stroke="#1a1a1a" stroke-width="1.1"/>
<text transform="translate(209.50,414.60) scale(0.89,1)" text-anchor="middle" font-size="8.6" fill="#444" class="t" >0</text>
<path d="M236.75,401.8V404.8" stroke="#1a1a1a" stroke-width="1.1"/>
<text transform="translate(236.75,414.60) scale(0.89,1)" text-anchor="middle" font-size="8.6" fill="#444" class="t" >50</text>
<path d="M264.00,401.8V404.8" stroke="#1a1a1a" stroke-width="1.1"/>
<text transform="translate(264.00,414.60) scale(0.89,1)" text-anchor="middle" font-size="8.6" fill="#444" class="t" >100</text>
<path d="M291.25,401.8V404.8" stroke="#1a1a1a" stroke-width="1.1"/>
<text transform="translate(291.25,414.60) scale(0.89,1)" text-anchor="middle" font-size="8.6" fill="#444" class="t" >150</text>
<path d="M318.50,401.8V404.8" stroke="#1a1a1a" stroke-width="1.1"/>
<text transform="translate(318.50,414.60) scale(0.89,1)" text-anchor="middle" font-size="8.6" fill="#444" class="t" >200</text>
<text x="271.70" y="427.30" textLength="28" lengthAdjust="spacingAndGlyphs" text-anchor="middle" font-size="9.2" fill="#444" class="t" >Time (h)</text>
<path d="M209.50,321.29 L235.66,370.26 L261.82,384.37 L301.06,395.16 L314.14,397.65 L327.22,399.31" fill="none" stroke="#33344f" stroke-width="1.3" stroke-dasharray="3.2,1.8"/>
<path d="M209.50,319.63V322.95M207.80,319.63h3.4M207.80,322.95h3.4" stroke="#33344f" stroke-width="1"/>
<path d="M235.66,369.43V371.09M233.96,369.43h3.4M233.96,371.09h3.4" stroke="#33344f" stroke-width="1"/>
<path d="M261.82,382.71V386.03M260.12,382.71h3.4M260.12,386.03h3.4" stroke="#33344f" stroke-width="1"/>
<path d="M301.06,394.33V395.99M299.36,394.33h3.4M299.36,395.99h3.4" stroke="#33344f" stroke-width="1"/>
<path d="M314.14,396.82V398.48M312.44,396.82h3.4M312.44,398.48h3.4" stroke="#33344f" stroke-width="1"/>
<path d="M327.22,398.48V400.14M325.52,398.48h3.4M325.52,400.14h3.4" stroke="#33344f" stroke-width="1"/>
<path d="M209.50,319.09L211.50,322.69L207.50,322.69Z" fill="#33344f"/>
<path d="M235.66,368.06L237.66,371.66L233.66,371.66Z" fill="#33344f"/>
<path d="M261.82,382.17L263.82,385.77L259.82,385.77Z" fill="#33344f"/>
<path d="M301.06,392.96L303.06,396.56L299.06,396.56Z" fill="#33344f"/>
<path d="M314.14,395.45L316.14,399.05L312.14,399.05Z" fill="#33344f"/>
<path d="M327.22,397.11L329.22,400.71L325.22,400.71Z" fill="#33344f"/>
<path d="M209.50,321.29 L235.66,364.45 L261.82,376.90 L301.06,391.84 L314.14,394.33 L327.22,399.31" fill="none" stroke="#a01a43" stroke-width="1.3"/>
<path d="M209.50,318.80V323.78M207.80,318.80h3.4M207.80,323.78h3.4" stroke="#a01a43" stroke-width="1"/>
<path d="M235.66,361.13V367.77M233.96,361.13h3.4M233.96,367.77h3.4" stroke="#a01a43" stroke-width="1"/>
<path d="M261.82,374.41V379.39M260.12,374.41h3.4M260.12,379.39h3.4" stroke="#a01a43" stroke-width="1"/>
<path d="M301.06,391.01V392.67M299.36,391.01h3.4M299.36,392.67h3.4" stroke="#a01a43" stroke-width="1"/>
<path d="M314.14,393.50V395.16M312.44,393.50h3.4M312.44,395.16h3.4" stroke="#a01a43" stroke-width="1"/>
<path d="M327.22,398.48V400.14M325.52,398.48h3.4M325.52,400.14h3.4" stroke="#a01a43" stroke-width="1"/>
<circle cx="209.50" cy="321.29" r="2.1" fill="#a01a43"/>
<circle cx="235.66" cy="364.45" r="2.1" fill="#a01a43"/>
<circle cx="261.82" cy="376.90" r="2.1" fill="#a01a43"/>
<circle cx="301.06" cy="391.84" r="2.1" fill="#a01a43"/>
<circle cx="314.14" cy="394.33" r="2.1" fill="#a01a43"/>
<circle cx="327.22" cy="399.31" r="2.1" fill="#a01a43"/>
<text transform="translate(184.71,359.20) rotate(-90)" textLength="34" lengthAdjust="spacingAndGlyphs" text-anchor="middle" font-size="9.2" fill="#444" class="t">GPIbα (%)</text>
<circle cx="261.82" cy="389.00" r="1.05" fill="#1a1a1a"/>
<text transform="translate(346,309.6) scale(1.0,1)" font-size="11.4" font-weight="bold" fill="#000">I</text>
<path d="M384.2,315V401.8H508.8" fill="none" stroke="#1a1a1a" stroke-width="1.4"/>
<path d="M381.2,401.80H384.2" stroke="#1a1a1a" stroke-width="1.1"/>
<text transform="translate(377.90,404.70) scale(0.89,1)" text-anchor="end" font-size="8.6" fill="#444" class="t" >0</text>
<path d="M381.2,380.93H384.2" stroke="#1a1a1a" stroke-width="1.1"/>
<text transform="translate(377.90,383.82) scale(0.89,1)" text-anchor="end" font-size="8.6" fill="#444" class="t" >25</text>
<path d="M381.2,360.05H384.2" stroke="#1a1a1a" stroke-width="1.1"/>
<text transform="translate(377.90,362.95) scale(0.89,1)" text-anchor="end" font-size="8.6" fill="#444" class="t" >50</text>
<path d="M381.2,339.18H384.2" stroke="#1a1a1a" stroke-width="1.1"/>
<text transform="translate(377.90,342.07) scale(0.89,1)" text-anchor="end" font-size="8.6" fill="#444" class="t" >75</text>
<path d="M381.2,318.30H384.2" stroke="#1a1a1a" stroke-width="1.1"/>
<text transform="translate(377.90,321.20) scale(0.89,1)" text-anchor="end" font-size="8.6" fill="#444" class="t" >100</text>
<path d="M384.20,401.8V404.8" stroke="#1a1a1a" stroke-width="1.1"/>
<text transform="translate(384.20,414.60) scale(0.89,1)" text-anchor="middle" font-size="8.6" fill="#444" class="t" >0</text>
<path d="M412.05,401.8V404.8" stroke="#1a1a1a" stroke-width="1.1"/>
<text transform="translate(412.05,414.60) scale(0.89,1)" text-anchor="middle" font-size="8.6" fill="#444" class="t" >50</text>
<path d="M439.90,401.8V404.8" stroke="#1a1a1a" stroke-width="1.1"/>
<text transform="translate(439.90,414.60) scale(0.89,1)" text-anchor="middle" font-size="8.6" fill="#444" class="t" >100</text>
<path d="M467.75,401.8V404.8" stroke="#1a1a1a" stroke-width="1.1"/>
<text transform="translate(467.75,414.60) scale(0.89,1)" text-anchor="middle" font-size="8.6" fill="#444" class="t" >150</text>
<path d="M495.60,401.8V404.8" stroke="#1a1a1a" stroke-width="1.1"/>
<text transform="translate(495.60,414.60) scale(0.89,1)" text-anchor="middle" font-size="8.6" fill="#444" class="t" >200</text>
<text x="446.40" y="427.30" textLength="28" lengthAdjust="spacingAndGlyphs" text-anchor="middle" font-size="9.2" fill="#444" class="t" >Time (h)</text>
<path d="M384.20,400.13 L410.94,397.62 L437.67,390.94 L477.78,376.75 L491.14,364.23 L504.51,352.54" fill="none" stroke="#33344f" stroke-width="1.3" stroke-dasharray="3.2,1.8"/>
<path d="M384.20,399.30V400.97M382.50,399.30h3.4M382.50,400.97h3.4" stroke="#33344f" stroke-width="1"/>
<path d="M410.94,396.79V398.46M409.24,396.79h3.4M409.24,398.46h3.4" stroke="#33344f" stroke-width="1"/>
<path d="M437.67,388.44V393.45M435.97,388.44h3.4M435.97,393.45h3.4" stroke="#33344f" stroke-width="1"/>
<path d="M477.78,373.41V380.09M476.08,373.41h3.4M476.08,380.09h3.4" stroke="#33344f" stroke-width="1"/>
<path d="M491.14,360.05V368.40M489.44,360.05h3.4M489.44,368.40h3.4" stroke="#33344f" stroke-width="1"/>
<path d="M504.51,347.53V357.55M502.81,347.53h3.4M502.81,357.55h3.4" stroke="#33344f" stroke-width="1"/>
<path d="M384.20,397.93L386.20,401.53L382.20,401.53Z" fill="#33344f"/>
<path d="M410.94,395.43L412.94,399.02L408.94,399.02Z" fill="#33344f"/>
<path d="M437.67,388.75L439.67,392.34L435.67,392.34Z" fill="#33344f"/>
<path d="M477.78,374.55L479.78,378.15L475.78,378.15Z" fill="#33344f"/>
<path d="M491.14,362.03L493.14,365.62L489.14,365.62Z" fill="#33344f"/>
<path d="M504.51,350.34L506.51,353.94L502.51,353.94Z" fill="#33344f"/>
<path d="M384.20,400.13 L410.94,398.46 L437.67,395.95 L477.78,379.25 L491.14,369.24 L504.51,356.71" fill="none" stroke="#a01a43" stroke-width="1.3"/>
<path d="M384.20,399.30V400.97M382.50,399.30h3.4M382.50,400.97h3.4" stroke="#a01a43" stroke-width="1"/>
<path d="M410.94,397.62V399.30M409.24,397.62h3.4M409.24,399.30h3.4" stroke="#a01a43" stroke-width="1"/>
<path d="M437.67,393.45V398.46M435.97,393.45h3.4M435.97,398.46h3.4" stroke="#a01a43" stroke-width="1"/>
<path d="M477.78,375.08V383.43M476.08,375.08h3.4M476.08,383.43h3.4" stroke="#a01a43" stroke-width="1"/>
<path d="M491.14,363.39V375.08M489.44,363.39h3.4M489.44,375.08h3.4" stroke="#a01a43" stroke-width="1"/>
<path d="M504.51,350.03V363.39M502.81,350.03h3.4M502.81,363.39h3.4" stroke="#a01a43" stroke-width="1"/>
<circle cx="384.20" cy="400.13" r="2.1" fill="#a01a43"/>
<circle cx="410.94" cy="398.46" r="2.1" fill="#a01a43"/>
<circle cx="437.67" cy="395.95" r="2.1" fill="#a01a43"/>
<circle cx="477.78" cy="379.25" r="2.1" fill="#a01a43"/>
<circle cx="491.14" cy="369.24" r="2.1" fill="#a01a43"/>
<circle cx="504.51" cy="356.71" r="2.1" fill="#a01a43"/>
<text transform="translate(360.71,358.90) rotate(-90)" textLength="44.8" lengthAdjust="spacingAndGlyphs" text-anchor="middle" font-size="9.2" fill="#444" class="t">P-selectin (%)</text>
<rect x="518.4" y="0" width="1.6" height="436" fill="#000"/><rect x="0" y="434.6" width="520" height="1.4" fill="#000"/><rect x="0" y="0" width="520" height="1" fill="#000"/><rect x="0" y="0" width="1" height="436" fill="#000"/>
</svg></body></html>
